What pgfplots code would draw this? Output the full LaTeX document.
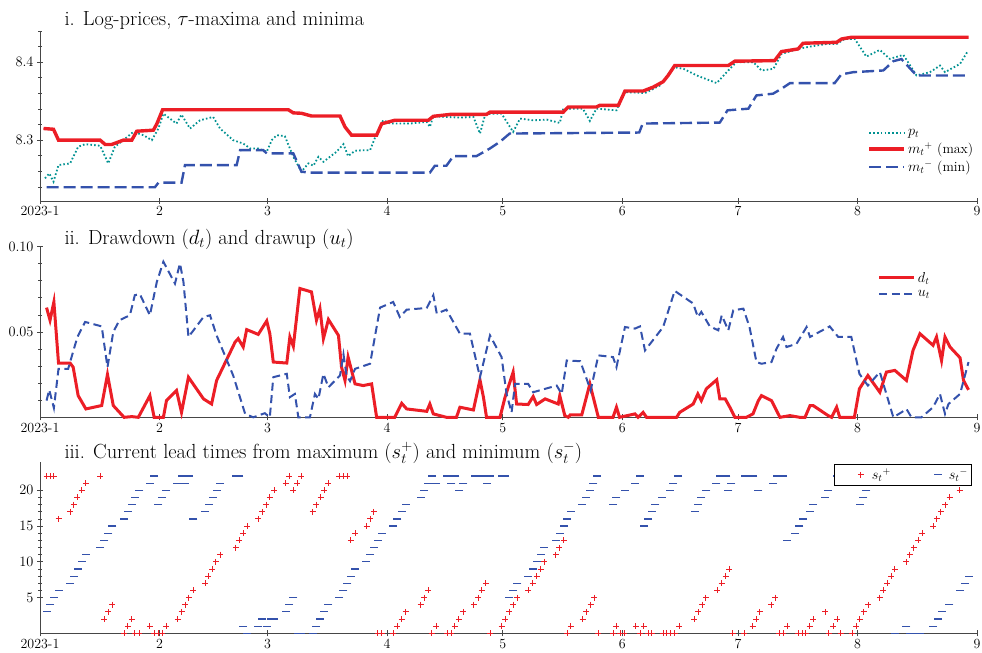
\documentclass[border=0pt]{standalone}
\usepackage{pgfplots}
\pgfplotsset{compat=1.18}
\definecolor{cred}{RGB}{236,30,38}
\definecolor{cblue}{RGB}{52,82,172}
\definecolor{cteal}{RGB}{0,145,145}
\definecolor{caxis}{RGB}{70,70,70}
\pgfplotsset{
  common/.style={
    scale only axis, width=937bp, anchor=south west,
    xmin=0, xmax=243, clip=false,
    axis x line=bottom, axis y line=left,
    axis line style={-, caxis, line width=0.9bp},
    tick style={caxis, line width=0.8bp},
    major tick length=6bp, minor tick length=3.5bp,
    xtick={0,31,59,90,120,151,181,212,243},
    xticklabels={2023-1,2,3,4,5,6,7,8,9},
    tick label style={font=\fontsize{14}{14}\selectfont},
    xticklabel style={yshift=1bp},
    legend cell align=left,
  },
  linelegend/.style={
    legend image code/.code={\draw[##1] (0bp,0bp) -- (35bp,0bp);},
  },
}
\pgfplotstableread{
x y
0.9 8.315
3.5 8.314
4.8 8.300
15.6 8.300
16.9 8.2945
18.6 8.2945
21.6 8.300
23.8 8.300
25.1 8.3115
29.4 8.3128
30.3 8.321
31.8 8.339
64.4 8.339
65.7 8.335
67.8 8.3345
70.4 8.331
77.8 8.331
79.1 8.317
80.8 8.3064
87.3 8.3064
88.6 8.321
92.0 8.3255
100.7 8.3255
102.0 8.3306
106.3 8.333
115.8 8.333
116.7 8.336
135.7 8.336
137.0 8.3426
144.3 8.3426
145.2 8.3447
150.0 8.3447
151.7 8.363
156.4 8.363
159.0 8.368
161.6 8.375
162.9 8.383
164.6 8.3957
178.5 8.3957
180.2 8.4013
190.5 8.402
192.3 8.4136
196.6 8.417
197.9 8.4243
206.6 8.4255
207.9 8.4298
210.5 8.432
240.8 8.432
}\tmax
\pgfplotstableread{
x y
1.7 8.2396
29.8 8.2396
30.7 8.2455
36.7 8.2455
37.6 8.268
51.0 8.268
51.9 8.2872
57.9 8.2872
58.8 8.283
65.7 8.283
67.8 8.2596
70.0 8.2583
101.1 8.2583
102.4 8.2672
105.4 8.2672
107.2 8.2796
113.2 8.2796
116.7 8.2894
119.3 8.298
121.8 8.3085
155.4 8.3098
156.3 8.3213
176.3 8.3226
178.3 8.3383
183.7 8.3404
185.8 8.3574
190.1 8.3596
192.3 8.366
194.5 8.3732
206.1 8.3732
207.8 8.3843
210.9 8.3872
218.7 8.3894
221.3 8.4013
223.4 8.404
227.3 8.383
240.7 8.383
}\tmin
\pgfplotstableread{
x y
1.3 8.2511
2.4 8.2574
3.5 8.2468
4.8 8.2681
7.8 8.2702
9.9 8.2915
11.7 8.2949
15.6 8.2928
17.7 8.2702
19.4 8.2915
21.6 8.3000
24.2 8.3106
26.8 8.3064
29.0 8.3000
30.7 8.3149
32.0 8.3340
35.4 8.3213
36.7 8.3328
38.9 8.3149
41.5 8.3255
44.9 8.3298
46.7 8.3149
50.1 8.3000
52.7 8.2957
54.5 8.2894
56.6 8.2894
58.8 8.2851
60.1 8.3000
61.4 8.3064
63.5 8.3051
65.7 8.2787
67.8 8.2596
69.6 8.2702
70.9 8.2672
72.2 8.2787
73.5 8.2723
75.2 8.2787
76.9 8.2851
78.7 8.2949
79.9 8.2796
81.7 8.2864
83.8 8.2872
85.6 8.2872
87.3 8.3085
89.0 8.3255
90.8 8.3213
95.9 8.3213
100.3 8.3234
101.1 8.3170
102.0 8.3306
105.4 8.3298
108.9 8.3289
112.4 8.3298
114.1 8.3085
115.4 8.3319
116.7 8.3340
119.7 8.3340
122.7 8.3106
124.5 8.3277
127.9 8.3255
131.4 8.3264
134.8 8.3221
135.7 8.3404
140.8 8.3404
142.6 8.3247
144.3 8.3404
149.5 8.3383
151.5 8.3617
156.9 8.3604
160.8 8.3702
164.3 8.3936
166.9 8.3915
170.3 8.3830
175.5 8.3732
178.5 8.3894
180.6 8.4000
185.0 8.4000
187.1 8.3894
190.2 8.3915
192.3 8.4106
196.6 8.4170
199.7 8.4200
204.0 8.4234
206.6 8.4234
208.7 8.4298
211.3 8.4298
214.3 8.4072
217.8 8.4157
220.4 8.4043
223.9 8.4094
227.3 8.3830
230.8 8.3872
233.4 8.3957
234.7 8.3872
238.6 8.3979
240.7 8.4149
}\tprice
\pgfplotstableread{
x y
1.7 0.0643
2.6 0.0569
3.6 0.0676
4.8 0.0318
7.8 0.0318
8.6 0.0294
9.9 0.0127
11.9 0.0049
16.0 0.0069
17.5 0.0251
19.0 0.0069
21.8 0
23.8 0.0004
25.5 0
28.5 0.0127
29.6 0
32.0 0
32.8 0.0098
35.4 0.0157
36.7 0.0029
38.5 0.0235
42.4 0.0108
44.5 0.0078
45.8 0.0216
50.6 0.0441
51.4 0.0461
52.7 0.0412
53.6 0.0514
56.6 0.0486
58.8 0.0565
59.6 0.049
60.5 0.0324
64.0 0.0318
64.8 0.0471
65.7 0.0416
67.4 0.0755
70.4 0.0735
71.7 0.0569
72.6 0.0637
73.5 0.0461
74.8 0.0573
77.4 0.048
78.2 0.0294
79.1 0.0216
79.9 0.0353
81.7 0.0196
83.8 0.0186
86.0 0.0196
87.3 0
92.0 0
93.8 0.0082
95.1 0.0049
100.3 0.0035
101.1 0.0078
102.0 0.002
105.4 0
108.0 0
108.9 0.0059
112.4 0.0043
114.1 0.022
115.0 0.0118
115.8 0
119.3 0
120.6 0.0118
122.7 0.0265
123.6 0.0078
126.6 0.0075
127.9 0.0122
128.8 0.0075
131.0 0.0108
134.4 0.0078
134.8 0.0127
136.1 0.001
137.0 0
137.5 0.0014
140.5 0.0014
142.6 0.0196
144.8 0
148.6 0
149.5 0.0059
150.3 0
154.3 0.002
155.1 0
156.4 0.0029
157.3 0
165.1 0
165.9 0.0029
169.4 0.0078
170.6 0.0137
171.5 0.0098
172.8 0.0167
175.5 0.022
176.3 0.0108
177.7 0.0108
178.9 0.0059
180.2 0
183.2 0
184.9 0.002
186.3 0.0098
187.1 0.0127
189.7 0.0098
191.9 0
194.5 0.001
197.0 0
198.4 0
199.7 0.0069
200.5 0.0069
204.4 0.001
205.3 0
206.6 0.0059
207.4 0
211.2 0
212.5 0.0167
214.7 0.0245
217.8 0.0147
219.5 0.0265
221.7 0.0275
224.7 0.0216
226.4 0.0392
228.2 0.049
231.6 0.0422
232.5 0.0471
233.8 0.0333
234.7 0.0471
236.0 0.0412
238.6 0.0349
239.5 0.0216
240.8 0.0161
}\tdd
\pgfplotstableread{
x y
1.7 0.0098
2.4 0.0161
3.6 0.0055
4.8 0.0284
7.3 0.0284
9.7 0.0471
11.7 0.0559
16.0 0.0533
17.5 0.0294
19.0 0.05
20.6 0.0569
23.3 0.0598
24.6 0.0716
25.9 0.0722
28.5 0.0598
30.3 0.0794
32.0 0.0912
35.0 0.0784
36.3 0.0902
37.2 0.0794
38.5 0.0471
42.4 0.0588
44.1 0.0598
45.8 0.048
50.1 0.0245
53.2 0.002
55.3 0
58.3 0.0024
59.6 0
60.5 0.0235
62.2 0.0245
64.0 0.0255
64.8 0.0118
66.1 0.0137
67.0 0
70.0 0
71.3 0.0137
72.2 0.0108
73.5 0.0255
74.8 0.0176
77.8 0.0245
78.7 0.0369
79.5 0.0245
80.4 0.0212
81.7 0.0284
85.6 0.0314
88.2 0.0643
91.6 0.0676
93.3 0.0588
95.1 0.0631
100.3 0.0641
102.0 0.0716
102.9 0.0608
105.4 0.0631
108.9 0.049
111.5 0.049
114.1 0.0235
116.7 0.048
119.7 0.0353
121.0 0.0137
122.3 0.0029
123.2 0.0196
126.6 0.0196
127.9 0.0147
131.0 0.0167
134.0 0.0186
135.3 0.0137
136.6 0.0333
140.1 0.0329
141.9 0.0216
142.8 0.0157
144.8 0.0363
148.6 0.0353
149.5 0.0294
151.7 0.0529
154.3 0.0520
155.6 0.0533
156.9 0.0392
161.6 0.0529
164.6 0.0741
169.4 0.0667
170.6 0.0588
171.5 0.0618
173.7 0.0533
175.9 0.051
176.8 0.0598
178.5 0.051
179.8 0.0627
182.4 0.0637
184.0 0.0529
185.8 0.0324
187.1 0.0314
189.7 0.0324
191.0 0.0402
192.7 0.0471
193.6 0.0412
196.2 0.0431
198.8 0.0529
199.7 0.0471
204.8 0.0533
207.0 0.0471
210.4 0.0471
212.5 0.0255
214.7 0.0186
217.8 0.0265
221.3 0
223.4 0.0029
224.7 0.0049
226.0 0
228.6 0
231.6 0.0059
233.4 0.0137
234.7 0.002
235.6 0.0078
238.6 0.0137
240.8 0.0324
}\tdu
\pgfplotstableread{
x y
1.7 22
2.6 22
3.6 22
4.8 16
7.8 17
8.8 18
9.7 19
10.8 20
11.9 21
15.6 22
16.6 2
17.7 3
18.8 4
21.8 0
22.8 1
23.8 2
24.6 0
25.8 0
28.5 1
29.6 0
30.7 0
31.7 0
32.7 1
35.7 2
36.7 3
37.6 4
38.6 5
39.8 6
42.8 7
43.6 8
44.7 9
45.6 10
46.7 11
50.8 12
51.7 13
52.7 14
53.8 15
56.6 16
57.7 17
58.6 18
59.6 19
60.7 20
63.7 21
64.6 22
65.7 20
66.7 21
67.7 22
70.7 17
71.7 18
72.8 19
73.7 20
74.8 21
77.6 22
78.7 22
79.7 22
80.6 13
81.7 14
84.7 15
85.6 16
86.6 17
87.6 0
88.6 0
91.6 0
92.7 1
93.8 2
94.8 3
98.7 4
99.6 5
100.7 6
101.6 0
102.7 1
105.6 0
106.7 0
107.6 1
108.6 2
109.8 3
112.5 4
113.7 5
114.5 6
115.6 7
116.7 0
119.7 1
120.6 2
121.7 3
122.7 4
123.8 5
126.6 6
127.8 7
128.8 8
129.8 9
130.8 10
133.8 11
134.7 12
135.8 13
136.7 0
137.6 1
140.7 2
141.7 3
142.8 4
143.7 5
144.8 0
148.6 0
149.5 1
150.5 0
151.5 0
154.5 1
155.6 0
156.6 1
157.7 0
158.6 0
161.6 0
162.5 0
163.5 0
164.6 0
165.8 1
169.7 2
170.7 3
171.7 4
172.7 5
175.6 6
176.8 7
177.8 8
178.8 9
179.7 0
182.6 0
184.8 1
185.8 2
186.7 3
189.7 4
190.7 5
191.7 0
192.7 0
193.8 1
196.6 0
197.6 0
198.6 0
199.6 1
200.5 2
203.7 3
204.6 0
205.7 1
206.7 2
207.7 0
210.7 0
211.7 1
212.6 2
213.6 3
214.8 4
217.8 5
218.7 6
219.7 7
220.7 8
221.7 9
224.7 10
225.6 11
226.6 12
227.7 13
228.8 14
231.6 15
232.6 16
233.6 17
234.7 18
235.9 19
238.5 20
239.7 21
240.8 22
}\tsp
\pgfplotstableread{
x y
1.7 3
2.6 4
3.6 5
4.8 6
7.8 7
8.8 8
9.8 9
10.8 10
11.8 11
15.6 12
16.7 13
17.7 14
18.8 15
21.8 16
22.7 17
23.8 18
24.6 19
25.8 20
28.5 21
29.6 22
30.7 18
31.7 19
32.7 20
35.4 21
36.7 22
37.6 21
38.7 22
39.8 16
42.8 17
43.8 18
44.8 19
45.8 20
46.7 21
50.8 22
51.7 22
52.7 1
53.8 0
56.6 1
57.6 2
58.8 1
59.8 2
60.7 2
63.7 3
64.6 4
65.7 5
66.8 0
67.8 0
70.7 0
71.6 1
72.6 2
73.6 3
74.8 4
77.6 5
78.7 6
79.7 7
80.6 8
81.7 9
84.5 10
85.6 11
86.6 12
87.6 13
88.6 14
91.6 15
92.7 16
93.8 17
94.8 18
98.7 19
99.6 20
100.7 21
101.7 22
102.7 21
105.6 22
106.7 21
107.7 22
108.7 20
109.8 21
112.8 22
113.8 22
114.8 22
115.8 21
116.7 22
119.7 22
120.6 22
121.7 5
122.7 6
123.8 7
126.6 8
127.8 9
128.8 10
129.8 11
130.7 12
133.8 13
134.8 14
135.9 15
136.7 16
137.6 17
140.5 18
141.6 19
142.6 20
143.5 21
144.5 22
148.6 18
149.5 19
151.7 20
154.3 21
155.6 22
156.7 15
157.7 16
158.6 17
159.6 18
161.2 19
163.3 20
164.2 21
165.5 22
169.8 17
170.7 18
171.5 19
172.8 20
175.4 21
176.3 22
178.0 22
178.5 20
179.3 21
182.8 22
185.0 22
186.3 20
190.1 21
191.0 22
192.7 22
193.6 13
195.8 14
196.9 15
197.9 16
199.6 17
200.5 18
203.5 19
204.4 20
206.6 22
207.4 21
210.9 22
212.6 18
213.5 19
214.3 20
215.2 21
217.8 22
221.7 0
224.7 1
225.6 0
226.9 0
228.2 0
231.6 1
232.9 2
233.8 3
235.8 4
238.6 6
239.9 7
240.8 8
}\tsm
\begin{document}
\begin{tikzpicture}
\useasboundingbox (0,0) rectangle (982bp,-653bp);
% ---------- panel i ----------
\begin{axis}[common, linelegend, height=170bp, at={(40bp,-201bp)},
  ymin=8.222, ymax=8.44,
  ytick={8.2,8.3,8.4,8.5}, minor y tick num=4,
  yticklabel style={/pgf/number format/fixed, /pgf/number format/precision=1},
  legend style={at={(0.882,0.44)}, anchor=north west, draw=none, fill=white,
    font=\fontsize{14}{14}\selectfont, row sep=1.5bp, inner sep=1bp},
]
\addplot[cteal, line width=1.8bp, dash pattern=on 1.6bp off 2.2bp] table {\tprice};
\addlegendentry{$p_t$}
\addplot[cred, line width=3.4bp] table {\tmax};
\addlegendentry{${m_t}^{+}$ (max)}
\addplot[cblue, line width=2.4bp, dash pattern=on 12bp off 5bp] table {\tmin};
\addlegendentry{${m_t}^{-}$ (min)}
\end{axis}
\node[anchor=base west, font=\fontsize{20.5}{20.5}\selectfont] at (61bp,-25bp) {i. Log-prices, $\tau$-maxima and minima};
% ---------- panel ii ----------
\begin{axis}[common, linelegend, height=170.6bp, at={(40bp,-417.3bp)},
  ymin=0, ymax=0.10,
  ytick={0.05,0.10}, minor ytick={0.01,0.02,0.03,0.04,0.06,0.07,0.08,0.09},
  yticklabel style={/pgf/number format/fixed, /pgf/number format/precision=2, /pgf/number format/fixed zerofill},
  legend style={at={(0.893,0.87)}, anchor=north west, draw=none, fill=white,
    font=\fontsize{14}{14}\selectfont, row sep=3bp, inner sep=1bp},
]
\addplot[cred, line width=3bp] table {\tdd};
\addlegendentry{$d_t$}
\addplot[cblue, line width=2bp, dash pattern=on 8bp off 4.5bp] table {\tdu};
\addlegendentry{$u_t$}
\end{axis}
\node[anchor=base west, font=\fontsize{20.5}{20.5}\selectfont] at (61bp,-244bp) {ii. Drawdown ($d_t$) and drawup ($u_t$)};
% ---------- panel iii ----------
\begin{axis}[common, height=171.6bp, at={(40bp,-633.3bp)},
  ymin=0, ymax=24,
  ytick={5,10,15,20}, minor y tick num=4,
  legend columns=2,
  legend image code/.code={\path[draw=none, fill=none] (0bp,-3bp) rectangle (34bp,3bp);
    \draw[mark repeat=2,mark phase=2,#1] plot coordinates {(0bp,0bp) (25bp,0bp) (34bp,0bp)};},
  legend style={at={(0.9947,0.985)}, anchor=north east, draw=black, line width=0.6bp, fill=white,
    font=\fontsize{14}{14}\selectfont, inner sep=2bp, /tikz/every even column/.append style={column sep=20bp}},
]
\addplot[only marks, mark=+, mark size=3bp, cred, line width=0.9bp] table {\tsp};
\addlegendentry{${s_t}^{+}$}
\addplot[only marks, mark=-, mark size=4bp, cblue, line width=1.2bp] table {\tsm};
\addlegendentry{${s_t}^{-}$}
\end{axis}
\node[anchor=base west, font=\fontsize{20.5}{20.5}\selectfont] at (61bp,-458bp) {iii. Current lead times from maximum ($s^+_t$) and minimum ($s^-_t$)};
\end{tikzpicture}
\end{document}
